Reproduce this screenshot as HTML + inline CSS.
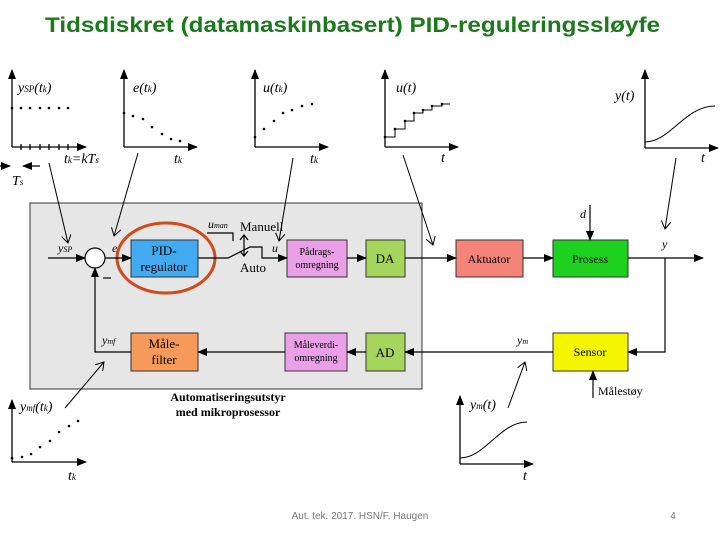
<!DOCTYPE html>
<html><head><meta charset="utf-8"><style>body{margin:0;background:#fff}svg{display:block}</style></head><body>
<svg width="720" height="540" viewBox="0 0 720 540" xmlns="http://www.w3.org/2000/svg" font-family="Liberation Serif, serif">
<defs>
<marker id="a" markerWidth="10" markerHeight="8" refX="9" refY="4" orient="auto" markerUnits="userSpaceOnUse"><path d="M0,0 L10,4 L0,8 Z" fill="#000"/></marker>
<marker id="o" markerWidth="10" markerHeight="10" refX="8" refY="5" orient="auto" markerUnits="userSpaceOnUse"><path d="M0,0 L8,5 L0,10" fill="none" stroke="#000" stroke-width="1"/></marker>
</defs>
<text x="45" y="32" font-family="Liberation Sans, sans-serif" font-weight="bold" font-size="21" fill="#1a7a1a" textLength="615" lengthAdjust="spacingAndGlyphs">Tidsdiskret (datamaskinbasert) PID-reguleringssløyfe</text>

<g stroke="#000" stroke-width="1.3" fill="none">
<path d="M12,147 V70" marker-end="url(#a)"/><path d="M12,147 H86" marker-end="url(#a)"/>
<path d="M124,147 V70" marker-end="url(#a)"/><path d="M124,147 H197" marker-end="url(#a)"/>
<path d="M255,147 V70" marker-end="url(#a)"/><path d="M255,147 H328" marker-end="url(#a)"/>
<path d="M385,147 V70" marker-end="url(#a)"/><path d="M385,147 H458" marker-end="url(#a)"/>
<path d="M645,148 V70" marker-end="url(#a)"/><path d="M645,148 H718" marker-end="url(#a)"/>
<path d="M12,462 V400" marker-end="url(#a)"/><path d="M12,462 H86" marker-end="url(#a)"/>
<path d="M460,464 V396" marker-end="url(#a)"/><path d="M460,464 H533" marker-end="url(#a)"/>
<path d="M21,144v6M30,144v6M40,144v6M49,144v6M59,144v6M68,144v6"/>
<path d="M0,166 H10" marker-end="url(#a)"/><path d="M40,166 H23" marker-end="url(#a)"/>
<path d="M385,137 H395 V129 H405 V121 H414 V113 H423 V110 H432 V106 H442 V104 H450" stroke-width="1"/>
<path d="M645,142 C670,142 685,106 715,106" stroke-width="1"/>
<path d="M460,458 C485,458 500,422 527,422" stroke-width="1"/>
</g>
<g fill="#000">
<circle cx="12" cy="108" r="1.3"/><circle cx="21" cy="108" r="1.3"/><circle cx="30" cy="108" r="1.3"/><circle cx="40" cy="108" r="1.3"/><circle cx="49" cy="108" r="1.3"/><circle cx="59" cy="108" r="1.3"/><circle cx="68" cy="108" r="1.3"/>
<circle cx="124" cy="113" r="1.3"/><circle cx="133" cy="116" r="1.3"/><circle cx="143" cy="119" r="1.3"/><circle cx="152" cy="127" r="1.3"/><circle cx="162" cy="134" r="1.3"/><circle cx="171" cy="139" r="1.3"/><circle cx="180" cy="141" r="1.3"/>
<circle cx="255" cy="137" r="1.3"/><circle cx="264" cy="129" r="1.3"/><circle cx="274" cy="121" r="1.3"/><circle cx="283" cy="113" r="1.3"/><circle cx="292" cy="110" r="1.3"/><circle cx="302" cy="106" r="1.3"/><circle cx="312" cy="104" r="1.3"/>
<circle cx="385" cy="137" r="1.3"/><circle cx="395" cy="129" r="1.3"/><circle cx="405" cy="121" r="1.3"/><circle cx="414" cy="113" r="1.3"/><circle cx="423" cy="110" r="1.3"/><circle cx="432" cy="106" r="1.3"/><circle cx="442" cy="104" r="1.3"/>
<circle cx="12" cy="458" r="1.3"/><circle cx="22" cy="457" r="1.3"/><circle cx="31" cy="454" r="1.3"/><circle cx="40" cy="447" r="1.3"/><circle cx="50" cy="441" r="1.3"/><circle cx="59" cy="432" r="1.3"/><circle cx="69" cy="426" r="1.3"/><circle cx="78" cy="421" r="1.3"/>
</g>
<g font-style="italic" font-size="14">
<text x="18" y="92">y<tspan font-size="9">SP</tspan>(t<tspan font-size="9">k</tspan>)</text>
<text x="64" y="163">t<tspan font-size="9">k</tspan>=kT<tspan font-size="9">s</tspan></text>
<text x="12" y="185">T<tspan font-size="9">s</tspan></text>
<text x="133" y="92">e(t<tspan font-size="9">k</tspan>)</text>
<text x="174" y="163">t<tspan font-size="9">k</tspan></text>
<text x="263" y="92">u(t<tspan font-size="9">k</tspan>)</text>
<text x="310" y="163">t<tspan font-size="9">k</tspan></text>
<text x="396" y="92">u(t)</text>
<text x="441" y="162">t</text>
<text x="615" y="100">y(t)</text>
<text x="701" y="162">t</text>
<text x="20" y="411">y<tspan font-size="9">mf</tspan>(t<tspan font-size="9">k</tspan>)</text>
<text x="68" y="480">t<tspan font-size="9">k</tspan></text>
<text x="470" y="409">y<tspan font-size="9">m</tspan>(t)</text>
<text x="523" y="480">t</text>
</g>

<rect x="30" y="203" width="392" height="186" fill="#e6e6e6" stroke="#333" stroke-width="1"/>

<g stroke="#000" stroke-width="1" fill="none">
<path d="M49,163 L68,243" marker-end="url(#o)"/>
<path d="M138,153 L114,236" marker-end="url(#o)"/>
<path d="M293,158 L279,241" marker-end="url(#o)"/>
<path d="M403,155 L433,245" marker-end="url(#o)"/>
<path d="M676,158 L665,229" marker-end="url(#o)"/>
<path d="M65,408 L104,362" marker-end="url(#o)"/>
<path d="M508,408 L525,362" marker-end="url(#o)"/>
</g>

<g stroke="#333" stroke-width="1">
<rect x="131" y="240" width="67" height="37" fill="#42aaf0"/>
<rect x="287" y="240" width="60" height="37" fill="#e9a0e6"/>
<rect x="366" y="240" width="39" height="37" fill="#a5d55a"/>
<rect x="456" y="240" width="67" height="37" fill="#f4837a"/>
<rect x="553" y="240" width="75" height="37" fill="#1fd11f"/>
<rect x="553" y="333" width="75" height="38" fill="#f5f500"/>
<rect x="366" y="333" width="39" height="38" fill="#a5d55a"/>
<rect x="285" y="333" width="62" height="38" fill="#e9a0e6"/>
<rect x="131" y="333" width="67" height="38" fill="#f59a5a"/>
</g>
<circle cx="95" cy="258" r="10" fill="#fff" stroke="#000" stroke-width="1.2"/>
<ellipse cx="166" cy="258" rx="49" ry="35" fill="none" stroke="#d04a1a" stroke-width="3"/>

<g stroke="#000" stroke-width="1.2" fill="none">
<path d="M48,258 H85" marker-end="url(#a)"/>
<path d="M105,258 H131" marker-end="url(#a)"/>
<path d="M198,258 H228 L250,247 H262 V258 H287" marker-end="url(#a)"/>
<path d="M207,233 H233 V241"/>
<path d="M244,236 V255"/>
<path d="M240,240 L244,235 L248,240 M240,251 L244,256 L248,251"/>
<path d="M347,258 H366" marker-end="url(#a)"/>
<path d="M405,258 H456" marker-end="url(#a)"/>
<path d="M523,258 H553" marker-end="url(#a)"/>
<path d="M590,205 V240" marker-end="url(#a)"/>
<path d="M628,258 H703" marker-end="url(#a)"/>
<path d="M665,258 V352 H628" marker-end="url(#a)"/>
<path d="M593,398 V371" marker-end="url(#a)"/>
<path d="M553,352 H405" marker-end="url(#a)"/>
<path d="M366,352 H347" marker-end="url(#a)"/>
<path d="M285,352 H198" marker-end="url(#a)"/>
<path d="M131,352 H95 V268" marker-end="url(#a)"/>
<path d="M103,278 H111"/>
</g>

<g font-size="13" text-anchor="middle">
<text x="164" y="255">PID-</text><text x="164" y="271">regulator</text>
<text x="317" y="255" font-size="10">Pådrags-</text><text x="317" y="268" font-size="10">omregning</text>
<text x="385" y="263">DA</text>
<text x="489" y="263" font-size="12">Aktuator</text>
<text x="590" y="263" font-size="12">Prosess</text>
<text x="590" y="356" font-size="12">Sensor</text>
<text x="385" y="357">AD</text>
<text x="316" y="348" font-size="10">Måleverdi-</text><text x="316" y="361" font-size="10">omregning</text>
<text x="164" y="348">Måle-</text><text x="164" y="364">filter</text>
<text x="228" y="401" font-weight="bold" font-size="12">Automatiseringsutstyr</text>
<text x="228" y="416" font-weight="bold" font-size="12">med mikroprosessor</text>
</g>
<g font-size="13">
<text x="240" y="231">Manuell</text>
<text x="240" y="272">Auto</text>
<text x="598" y="395" font-size="12">Målestøy</text>
</g>
<g font-style="italic" font-size="12">
<text x="58" y="252">y<tspan font-size="8">SP</tspan></text>
<text x="112" y="252">e</text>
<text x="208" y="228">u<tspan font-size="8">man</tspan></text>
<text x="272" y="252">u</text>
<text x="580" y="218">d</text>
<text x="662" y="248">y</text>
<text x="517" y="344">y<tspan font-size="8">m</tspan></text>
<text x="102" y="344">y<tspan font-size="8">mf</tspan></text>
</g>

<text x="360" y="519" text-anchor="middle" font-family="Liberation Sans, sans-serif" font-size="10" fill="#777">Aut. tek. 2017. HSN/F. Haugen</text>
<text x="673" y="519" text-anchor="middle" font-family="Liberation Sans, sans-serif" font-size="10" fill="#777">4</text>
</svg>
</body></html>
